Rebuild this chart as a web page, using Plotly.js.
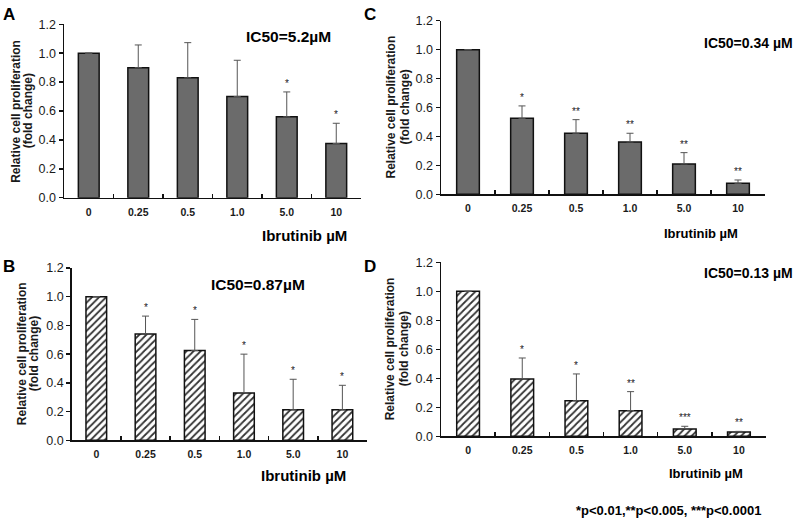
<!DOCTYPE html>
<html><head><meta charset="utf-8">
<script src="https://cdn.plot.ly/plotly-3.0.1.min.js"></script>
<style>html,body{margin:0;padding:0;background:#fff}#chart{width:800px;height:519px}</style>
</head><body><div id="chart"></div>
<script>
// ---- data ----
const doses = ['0', '0.25', '0.5', '1.0', '5.0', '10'];

const meanA = [1.0, 0.90, 0.83, 0.70, 0.56, 0.375];
const errA  = [null, 0.157, 0.243, 0.251, 0.172, 0.14];
const sigA  = ['', '', '', '', '*', '*'];

const meanB = [1.0, 0.74, 0.625, 0.33, 0.213, 0.213];
const errB  = [null, 0.125, 0.217, 0.27, 0.212, 0.17];
const sigB  = ['', '*', '*', '*', '*', '*'];

const meanC = [1.0, 0.525, 0.422, 0.362, 0.21, 0.076];
const errC  = [null, 0.086, 0.094, 0.06, 0.078, 0.023];
const sigC  = ['', '*', '**', '**', '**', '**'];

const meanD = [1.0, 0.395, 0.246, 0.177, 0.051, 0.030];
const errD  = [null, 0.145, 0.184, 0.131, 0.018, 0.004];
const sigD  = ['', '*', '*', '**', '***', '**'];

const yTickVals = [0, 0.2, 0.4, 0.6, 0.8, 1.0, 1.2];
const yTickText = ['0.0', '0.2', '0.4', '0.6', '0.8', '1.0', '1.2'];

const panelLetters = ['A', 'B', 'C', 'D'];
const ic50Labels = ['IC50=5.2\u00b5M', 'IC50=0.87\u00b5M', 'IC50=0.34 \u00b5M', 'IC50=0.13 \u00b5M'];
const xTitle = 'Ibrutinib \u00b5M';
const yTitle1 = 'Relative cell proliferation';
const yTitle2 = '(fold change)';
const footnote = '*p<0.01,**p<0.005, ***p<0.0001';

// ---- layout helpers ----
const W = 800, H = 519;
const F = 'Arial, "Liberation Sans", sans-serif';
const px = x => x / W;
const py = y => 1 - y / H;

const panels = [
  {mean: meanA, err: errA, sig: sigA, hatch: false, box: [64, 361, 24.3, 197.7],
   letter: [9, 14], ic: [288, 37, 15.5], xt: [304, 235, 15], yt: [15.8, 28.3]},
  {mean: meanB, err: errB, sig: sigB, hatch: true, box: [71.7, 367, 268, 440.3],
   letter: [9, 266], ic: [258, 284, 15.5], xt: [303, 475, 15], yt: [22, 34]},
  {mean: meanC, err: errC, sig: sigC, hatch: false, box: [441, 765, 20.7, 194.3],
   letter: [370, 14], ic: [748, 43, 14], xt: [701, 233, 13], yt: [390, 404]},
  {mean: meanD, err: errD, sig: sigD, hatch: true, box: [441, 766, 262.3, 436.3],
   letter: [370, 266], ic: [748, 273, 14], xt: [706, 473, 13], yt: [390, 404]}
];

const data = [];
const layout = {
  width: W, height: H,
  margin: {l: 0, r: 0, t: 0, b: 0},
  paper_bgcolor: '#ffffff', plot_bgcolor: 'rgba(0,0,0,0)',
  showlegend: false, bargap: 0.58,
  font: {family: F, color: '#1a1a1a'},
  annotations: []
};

panels.forEach((p, i) => {
  const n = i === 0 ? '' : String(i + 1);
  const xa = 'x' + n, ya = 'y' + n;
  const marker = p.hatch
    ? {color: '#ffffff', line: {color: '#111', width: 1.5},
       pattern: {shape: '/', fgcolor: '#333', bgcolor: '#ffffff', size: 5, solidity: 0.35}}
    : {color: '#6b6b6b', line: {color: '#111', width: 1.5}};
  data.push({
    type: 'bar', x: doses, y: p.mean, xaxis: xa, yaxis: ya,
    marker: marker,
    error_y: {type: 'data', symmetric: false, array: p.err,
              arrayminus: p.err.map(() => 0), color: '#555', thickness: 1, width: 3.5},
    hoverinfo: 'x+y'
  });
  const [x0, x1, y0, y1] = p.box;
  layout['xaxis' + n] = {
    domain: [px(x0), px(x1)], anchor: ya, type: 'category',
    showline: true, linecolor: '#111', linewidth: 1.5,
    ticks: 'inside', ticklen: 4, tickcolor: '#111', tickwidth: 1.5, tickson: 'boundaries',
    showgrid: false, zeroline: false, ticklabelstandoff: 4,
    tickfont: {family: F, size: 10.5, color: '#1a1a1a', weight: 'bold'},
    range: [-0.5, 5.5], fixedrange: true
  };
  layout['yaxis' + n] = {
    domain: [py(y1), py(y0)], anchor: xa, range: [0, 1.2],
    tickvals: yTickVals, ticktext: yTickText,
    showline: true, linecolor: '#111', linewidth: 1.5,
    ticks: 'outside', ticklen: 4, tickcolor: '#111', tickwidth: 1.5,
    showgrid: false, zeroline: false,
    tickfont: {family: F, size: 12.5, color: '#1a1a1a'}, fixedrange: true
  };
  // significance stars (x given as category index)
  p.sig.forEach((s, k) => {
    if (!s) return;
    layout.annotations.push({
      xref: xa, yref: ya, x: k, y: p.mean[k] + (p.err[k] || 0),
      text: s, showarrow: false, xanchor: 'center', yanchor: 'bottom', yshift: 1,
      font: {family: F, size: 10, color: '#1a1a1a'}
    });
  });
  // panel letter
  layout.annotations.push({xref: 'paper', yref: 'paper', x: px(p.letter[0]), y: py(p.letter[1]),
    xanchor: 'center', yanchor: 'middle', text: panelLetters[i], showarrow: false,
    font: {family: F, size: 17, color: '#000', weight: 'bold'}});
  // IC50
  layout.annotations.push({xref: 'paper', yref: 'paper', x: px(p.ic[0]), y: py(p.ic[1]),
    xanchor: 'center', yanchor: 'middle', text: ic50Labels[i], showarrow: false,
    font: {family: F, size: p.ic[2], color: '#000', weight: 'bold'}});
  // x title
  layout.annotations.push({xref: 'paper', yref: 'paper', x: px(p.xt[0]), y: py(p.xt[1]),
    xanchor: 'center', yanchor: 'middle', text: xTitle, showarrow: false,
    font: {family: F, size: p.xt[2], color: '#000', weight: 'bold'}});
  // y title (two lines)
  const yc = (y0 + y1) / 2;
  [yTitle1, yTitle2].forEach((t, j) => {
    layout.annotations.push({xref: 'paper', yref: 'paper', x: px(p.yt[j]), y: py(yc),
      xanchor: 'center', yanchor: 'middle', textangle: -90, text: t, showarrow: false,
      font: {family: F, size: 12, color: '#1a1a1a', weight: 'bold'}});
  });
});

layout.annotations.push({xref: 'paper', yref: 'paper', x: px(668), y: py(510),
  xanchor: 'center', yanchor: 'middle', text: footnote, showarrow: false,
  font: {family: F, size: 13, color: '#000', weight: 'bold'}});

Plotly.newPlot('chart', data, layout, {displayModeBar: false, staticPlot: true});
</script>
</body></html>
